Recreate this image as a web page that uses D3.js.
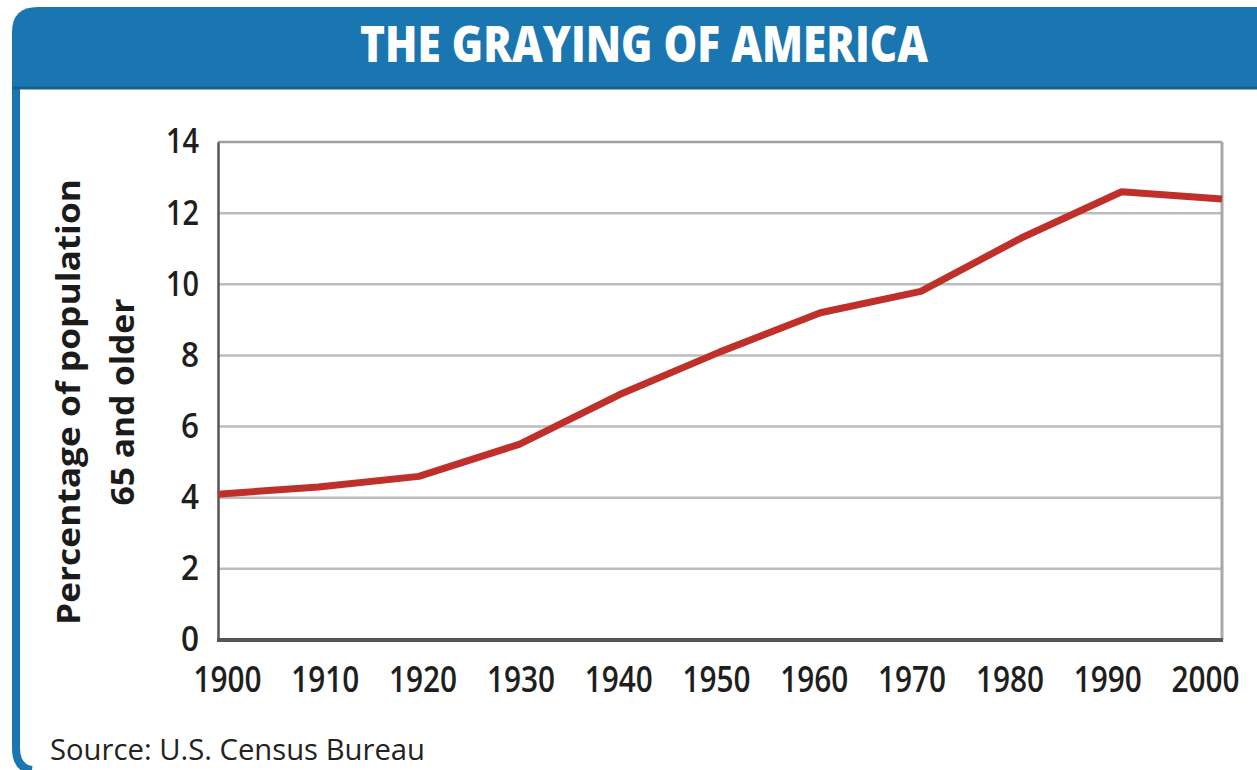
<!DOCTYPE html>
<html>
<head>
<meta charset="utf-8">
<script src="https://cdn.jsdelivr.net/npm/d3@7"></script>
<style>
  body { margin: 0; background: #fff; }
  svg { display: block; }
  .tick text { font-family: "Open Sans", sans-serif; font-weight: 600; fill: #1e1e1e; }
</style>
</head>
<body>
<div id="chart"></div>
<script>
const years = [1900, 1910, 1920, 1930, 1940, 1950, 1960, 1970, 1980, 1990, 2000];
const pctOlder = [4.1, 4.3, 4.6, 5.5, 6.9, 8.1, 9.2, 9.8, 11.3, 12.6, 12.4];
const yTicks = [0, 2, 4, 6, 8, 10, 12, 14];

const width = 1257, height = 770;
const margin = { top: 142, right: 35, bottom: 130, left: 218 };

const svg = d3.select("#chart").append("svg")
    .attr("width", width)
    .attr("height", height);

// frame: blue header with a rounded corner, blue rule down the left
const blue = "#1a76b0";
svg.append("path")
    .attr("d", "M12,88 L12,32 Q12,7 38,7 L1257,7 L1257,88 Z")
    .attr("fill", blue);
svg.append("path")
    .attr("d", "M16,88 L16,748 Q16,768 32,770")
    .attr("fill", "none")
    .attr("stroke", blue)
    .attr("stroke-width", 8);
svg.append("line")
    .attr("x1", 12).attr("x2", 1257)
    .attr("y1", 88).attr("y2", 88)
    .attr("stroke", "#175f8e").attr("stroke-width", 3);

svg.append("text")
    .attr("x", 360).attr("y", 62)
    .attr("textLength", 568)
    .attr("lengthAdjust", "spacingAndGlyphs")
    .attr("fill", "#fff")
    .style("font-family", "'Open Sans', sans-serif")
    .style("font-weight", 800)
    .style("font-size", "49px")
    .text("THE GRAYING OF AMERICA");

const x = d3.scaleLinear()
    .domain([1900, 2000])
    .range([margin.left, width - margin.right]);

// tick labels sit on their own, slightly tighter spacing
const xLabel = d3.scalePoint()
    .domain(years)
    .range([227, 1205]);

const y = d3.scaleLinear()
    .domain([0, 14])
    .range([height - margin.bottom, margin.top]);

// gridlines
svg.append("g")
    .selectAll("line")
    .data(yTicks.filter(d => d > 0))
    .join("line")
    .attr("x1", x(1900)).attr("x2", x(2000))
    .attr("y1", d => y(d)).attr("y2", d => y(d))
    .attr("stroke", d => d === 14 ? "#a0a0a0" : "#bcbcbc")
    .attr("stroke-width", 2.5);

// right border
svg.append("line")
    .attr("x1", x(2000)).attr("x2", x(2000))
    .attr("y1", y(14)).attr("y2", y(0))
    .attr("stroke", "#a8a8a8").attr("stroke-width", 3);

// y axis
const yAxis = svg.append("g")
    .attr("transform", `translate(${x(1900)},0)`)
    .call(d3.axisLeft(y).tickValues(yTicks).tickSize(0).tickPadding(19));
yAxis.select(".domain").attr("stroke", "#555").attr("stroke-width", 2.5);
yAxis.selectAll(".tick text")
    .style("font-size", "34px")
    .attr("textLength", d => d >= 10 ? 33 : 18)
    .attr("lengthAdjust", "spacingAndGlyphs");

// x axis line
svg.append("line")
    .attr("x1", x(1900) - 1).attr("x2", x(2000) + 1)
    .attr("y1", y(0)).attr("y2", y(0))
    .attr("stroke", "#555").attr("stroke-width", 4);

// x tick labels
const xAxis = svg.append("g")
    .attr("transform", `translate(0,${y(0)})`)
    .call(d3.axisBottom(xLabel).tickFormat(d3.format("d")).tickSize(0).tickPadding(26));
xAxis.select(".domain").remove();
xAxis.selectAll(".tick text")
    .style("font-size", "36px")
    .attr("textLength", 68)
    .attr("lengthAdjust", "spacingAndGlyphs");

// the series line
const line = d3.line()
    .x((d, i) => x(years[i]))
    .y(d => y(d));

svg.append("path")
    .datum(pctOlder)
    .attr("d", line)
    .attr("fill", "none")
    .attr("stroke", "#c0302b")
    .attr("stroke-width", 7)
    .attr("stroke-linejoin", "round");

// y title, two lines rotated
const yTitle = svg.append("text")
    .attr("transform", `translate(80,402) rotate(-90)`)
    .attr("text-anchor", "middle")
    .attr("fill", "#1b1b1b")
    .style("font-family", "'Open Sans', sans-serif")
    .style("font-weight", 700)
    .style("font-size", "33px");
yTitle.append("tspan").attr("x", 0).attr("y", 0)
    .attr("textLength", 446).attr("lengthAdjust", "spacingAndGlyphs")
    .text("Percentage of population");
yTitle.append("tspan").attr("x", 0).attr("y", 54)
    .attr("textLength", 207).attr("lengthAdjust", "spacingAndGlyphs")
    .text("65 and older");

svg.append("text")
    .attr("x", 50).attr("y", 760)
    .attr("textLength", 375)
    .attr("lengthAdjust", "spacingAndGlyphs")
    .attr("fill", "#222")
    .style("font-family", "'Open Sans', sans-serif")
    .style("font-size", "30px")
    .text("Source: U.S. Census Bureau");
</script>
</body>
</html>
